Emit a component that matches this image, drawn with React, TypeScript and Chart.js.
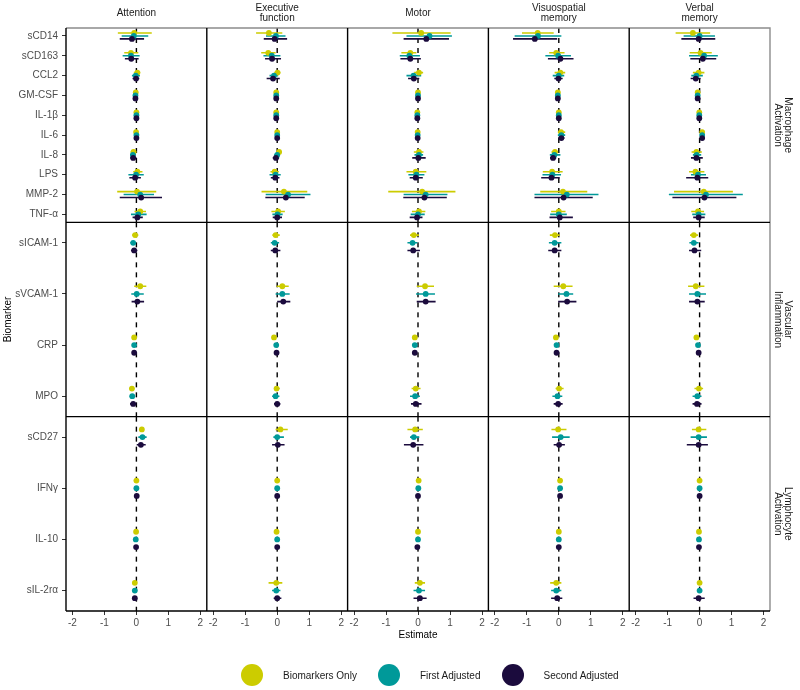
import React, { useEffect, useRef } from "react";
import { Chart, registerables } from "chart.js";

Chart.register(...registerables);

const FONT = '"Liberation Sans", Arial, Helvetica, sans-serif';

// Facet labels
const DOMAINS = ["Attention", "Executive\nfunction", "Motor", "Visuospatial\nmemory", "Verbal\nmemory"];
const GROUP_LABELS = ["Macrophage\nActivation", "Vascular\nInflammation", "Lymphocyte\nActivation"];

// Biomarkers per group (top to bottom)
const MACROPHAGE = ["sCD14", "sCD163", "CCL2", "GM-CSF", "IL-1β", "IL-6", "IL-8", "LPS", "MMP-2", "TNF-α"];
const VASCULAR = ["sICAM-1", "sVCAM-1", "CRP", "MPO"];
const LYMPHOCYTE = ["sCD27", "IFNγ", "IL-10", "sIL-2rα"];

const MODELS = ["Biomarkers Only", "First Adjusted", "Second Adjusted"];
const MODEL_COLORS = ["#CCCC00", "#009999", "#1B0B3D"];

const X_TICKS = [-2, -1, 0, 1, 2];
const X_MIN = -2.2;
const X_MAX = 2.2;
const REFERENCE_X = 0;

// Each array: [Biomarkers Only, First Adjusted, Second Adjusted],
// 18 values in order MACROPHAGE, VASCULAR, LYMPHOCYTE
const ATTENTION_EST = [
  [-0.07, -0.17, 0.03, -0.02, 0.0, -0.01, -0.09, 0.03, 0.02, 0.12, -0.04, 0.12, -0.07, -0.14, 0.17, 0.0, -0.01, -0.05],
  [-0.08, -0.17, -0.02, -0.03, 0.0, 0.0, -0.11, -0.01, 0.12, 0.06, -0.1, 0.01, -0.07, -0.13, 0.19, 0.0, -0.02, -0.05],
  [-0.14, -0.16, -0.01, -0.03, 0.0, 0.0, -0.1, -0.04, 0.15, 0.03, -0.07, 0.03, -0.07, -0.1, 0.14, 0.01, -0.01, -0.05],
];
const ATTENTION_LO = [
  [-0.58, -0.38, -0.08, -0.07, -0.05, -0.06, -0.18, -0.1, -0.6, -0.06, -0.13, -0.07, -0.12, -0.22, 0.12, -0.03, -0.04, -0.1],
  [-0.46, -0.43, -0.14, -0.08, -0.05, -0.06, -0.2, -0.25, -0.4, -0.17, -0.19, -0.16, -0.12, -0.21, 0.06, -0.03, -0.05, -0.12],
  [-0.52, -0.36, -0.12, -0.08, -0.05, -0.06, -0.19, -0.22, -0.52, -0.12, -0.17, -0.15, -0.12, -0.2, 0.01, -0.02, -0.04, -0.12],
];
const ATTENTION_HI = [
  [0.48, 0.06, 0.12, 0.04, 0.05, 0.05, 0.0, 0.19, 0.62, 0.3, 0.06, 0.31, -0.02, -0.06, 0.22, 0.03, 0.02, 0.0],
  [0.37, 0.1, 0.11, 0.03, 0.05, 0.06, -0.02, 0.23, 0.55, 0.32, -0.01, 0.23, -0.02, -0.04, 0.32, 0.03, 0.01, 0.02],
  [0.24, 0.07, 0.09, 0.03, 0.05, 0.06, 0.0, 0.14, 0.8, 0.2, 0.03, 0.24, -0.02, 0.0, 0.29, 0.04, 0.02, 0.02],
];

const EXECUTIVE_EST = [
  [-0.26, -0.28, 0.01, -0.03, -0.03, 0.0, 0.06, -0.08, 0.21, 0.03, -0.05, 0.16, -0.1, -0.02, 0.1, 0.0, -0.02, -0.03],
  [-0.04, -0.17, -0.1, -0.03, -0.03, 0.0, 0.0, -0.05, 0.34, 0.01, -0.08, 0.16, -0.03, -0.05, 0.0, 0.0, 0.0, -0.03],
  [-0.08, -0.16, -0.13, -0.03, -0.03, 0.0, -0.04, -0.06, 0.27, 0.0, -0.06, 0.19, -0.02, 0.0, 0.02, 0.0, 0.0, 0.0],
];
const EXECUTIVE_LO = [
  [-0.66, -0.5, -0.09, -0.08, -0.07, -0.05, -0.01, -0.21, -0.49, -0.18, -0.15, -0.02, -0.14, -0.1, -0.05, -0.03, -0.05, -0.27],
  [-0.35, -0.43, -0.24, -0.08, -0.07, -0.05, -0.09, -0.24, -0.36, -0.15, -0.2, -0.05, -0.07, -0.16, -0.12, -0.03, -0.03, -0.16],
  [-0.42, -0.38, -0.33, -0.08, -0.07, -0.05, -0.14, -0.2, -0.37, -0.14, -0.2, 0.0, -0.06, -0.1, -0.16, -0.03, -0.03, -0.11],
];
const EXECUTIVE_HI = [
  [0.16, -0.05, 0.1, 0.02, 0.01, 0.05, 0.14, 0.05, 0.94, 0.24, 0.08, 0.36, -0.06, 0.08, 0.33, 0.03, 0.01, 0.16],
  [0.26, 0.1, 0.03, 0.02, 0.01, 0.05, 0.09, 0.11, 1.04, 0.17, 0.06, 0.39, 0.01, 0.07, 0.21, 0.03, 0.03, 0.1],
  [0.31, 0.12, 0.08, 0.02, 0.01, 0.05, 0.06, 0.07, 0.86, 0.15, 0.1, 0.41, 0.02, 0.1, 0.23, 0.03, 0.03, 0.13],
];

const MOTOR_EST = [
  [0.1, -0.24, 0.03, 0.0, -0.02, -0.01, 0.03, -0.07, 0.13, 0.03, -0.13, 0.22, -0.1, -0.07, -0.09, 0.02, 0.0, 0.06],
  [0.36, -0.27, -0.14, 0.0, -0.02, -0.01, 0.03, -0.05, 0.24, 0.0, -0.17, 0.24, -0.1, -0.09, -0.13, 0.01, 0.0, 0.03],
  [0.26, -0.24, -0.13, 0.0, -0.02, -0.01, 0.01, -0.07, 0.2, -0.03, -0.15, 0.24, -0.1, -0.07, -0.15, 0.0, -0.02, 0.06],
];
const MOTOR_LO = [
  [-0.8, -0.52, -0.12, -0.05, -0.06, -0.06, -0.13, -0.36, -0.93, -0.19, -0.25, -0.04, -0.15, -0.2, -0.33, -0.01, -0.03, -0.1],
  [-0.36, -0.57, -0.36, -0.05, -0.06, -0.06, -0.11, -0.3, -0.45, -0.23, -0.33, -0.06, -0.15, -0.25, -0.25, -0.02, -0.03, -0.14],
  [-0.45, -0.55, -0.31, -0.05, -0.06, -0.06, -0.18, -0.26, -0.46, -0.26, -0.33, -0.04, -0.15, -0.22, -0.44, -0.03, -0.05, -0.14],
];
const MOTOR_HI = [
  [1.02, -0.05, 0.16, 0.05, 0.02, 0.04, 0.17, 0.26, 1.17, 0.23, 0.03, 0.5, -0.05, 0.08, 0.15, 0.05, 0.03, 0.22],
  [1.06, 0.06, 0.1, 0.05, 0.02, 0.04, 0.16, 0.2, 0.92, 0.21, -0.02, 0.53, -0.05, 0.06, 0.04, 0.04, 0.03, 0.22],
  [0.97, 0.09, 0.04, 0.05, 0.02, 0.04, 0.24, 0.15, 0.9, 0.14, 0.06, 0.55, -0.05, 0.11, 0.17, 0.03, 0.01, 0.27],
];

const VISUOSPATIAL_EST = [
  [-0.66, -0.08, 0.05, -0.03, 0.0, 0.07, -0.12, -0.21, 0.13, 0.0, -0.12, 0.14, -0.09, 0.01, -0.02, 0.04, 0.0, -0.08],
  [-0.65, -0.02, 0.0, -0.03, 0.0, 0.08, -0.14, -0.2, 0.25, 0.0, -0.13, 0.24, -0.07, -0.04, 0.06, 0.04, 0.0, -0.08],
  [-0.75, 0.05, -0.01, -0.03, 0.0, 0.08, -0.18, -0.23, 0.15, 0.03, -0.13, 0.26, -0.07, -0.02, 0.01, 0.04, 0.0, -0.05],
];
const VISUOSPATIAL_LO = [
  [-1.15, -0.3, -0.13, -0.08, -0.04, -0.03, -0.23, -0.5, -0.58, -0.24, -0.28, -0.16, -0.14, -0.1, -0.23, 0.01, -0.03, -0.27],
  [-1.38, -0.42, -0.19, -0.08, -0.04, -0.03, -0.28, -0.51, -0.76, -0.27, -0.31, -0.02, -0.12, -0.2, -0.21, 0.01, -0.03, -0.24],
  [-1.43, -0.34, -0.14, -0.08, -0.04, -0.02, -0.27, -0.55, -0.76, -0.29, -0.33, -0.02, -0.12, -0.16, -0.16, 0.01, -0.03, -0.24],
];
const VISUOSPATIAL_HI = [
  [-0.16, 0.18, 0.2, 0.02, 0.04, 0.2, -0.02, 0.12, 0.89, 0.21, 0.03, 0.43, -0.04, 0.15, 0.24, 0.07, 0.03, 0.08],
  [0.08, 0.38, 0.17, 0.02, 0.04, 0.2, 0.05, 0.07, 1.24, 0.25, 0.08, 0.45, -0.02, 0.11, 0.34, 0.07, 0.03, 0.08],
  [-0.05, 0.46, 0.12, 0.02, 0.04, 0.18, -0.08, 0.03, 1.06, 0.44, 0.08, 0.55, -0.02, 0.12, 0.19, 0.07, 0.03, 0.11],
];

const VERBAL_EST = [
  [-0.21, 0.03, -0.03, -0.06, -0.01, 0.08, -0.1, -0.13, 0.13, -0.05, -0.18, -0.12, -0.1, -0.02, -0.03, 0.0, -0.02, 0.0],
  [0.0, 0.14, -0.1, -0.06, -0.01, 0.08, -0.09, -0.05, 0.2, -0.03, -0.18, -0.07, -0.05, -0.07, -0.03, 0.0, -0.02, 0.0],
  [-0.03, 0.1, -0.12, -0.06, -0.01, 0.08, -0.1, -0.07, 0.15, -0.03, -0.16, -0.07, -0.03, -0.08, -0.03, 0.0, -0.02, -0.03],
];
const VERBAL_LO = [
  [-0.75, -0.31, -0.21, -0.11, -0.05, 0.02, -0.25, -0.33, -0.8, -0.26, -0.3, -0.36, -0.14, -0.16, -0.24, -0.03, -0.05, -0.04],
  [-0.5, -0.33, -0.26, -0.11, -0.05, 0.02, -0.21, -0.27, -0.96, -0.23, -0.32, -0.33, -0.09, -0.22, -0.28, -0.03, -0.05, -0.06],
  [-0.57, -0.29, -0.28, -0.11, -0.05, 0.02, -0.27, -0.42, -0.85, -0.2, -0.33, -0.33, -0.07, -0.22, -0.4, -0.03, -0.05, -0.19],
];
const VERBAL_HI = [
  [0.33, 0.38, 0.15, -0.01, 0.03, 0.14, 0.07, 0.15, 1.04, 0.14, -0.05, 0.15, -0.06, 0.11, 0.21, 0.03, 0.01, 0.04],
  [0.48, 0.57, 0.1, -0.01, 0.03, 0.14, 0.05, 0.2, 1.35, 0.18, -0.03, 0.2, -0.01, 0.06, 0.23, 0.03, 0.01, 0.06],
  [0.49, 0.52, 0.03, -0.01, 0.03, 0.14, 0.1, 0.27, 1.15, 0.16, 0.05, 0.16, 0.01, 0.06, 0.26, 0.03, 0.01, 0.16],
];

const GROUPS = [MACROPHAGE, VASCULAR, LYMPHOCYTE];
const DOMAIN_DATA = [
  [ATTENTION_EST, ATTENTION_LO, ATTENTION_HI],
  [EXECUTIVE_EST, EXECUTIVE_LO, EXECUTIVE_HI],
  [MOTOR_EST, MOTOR_LO, MOTOR_HI],
  [VISUOSPATIAL_EST, VISUOSPATIAL_LO, VISUOSPATIAL_HI],
  [VERBAL_EST, VERBAL_LO, VERBAL_HI],
];

const DODGE = [-0.15, 0, 0.15];
const Y_EXPAND = 0.4;

function buildDatasets() {
  const refLines: any[] = [];
  const bars: any[] = [];
  const points: any[] = [];
  let start = 0;
  GROUPS.forEach((markers, r) => {
    DOMAIN_DATA.forEach(([est, lo, hi], c) => {
      const ids = { xAxisID: `x${c}`, yAxisID: `y${r}` };
      refLines.push({
        ...ids,
        label: "reference",
        data: [
          { x: REFERENCE_X, y: -Y_EXPAND },
          { x: REFERENCE_X, y: markers.length - 1 + Y_EXPAND },
        ],
        showLine: true,
        borderColor: "#000000",
        borderWidth: 1.4,
        borderDash: [5, 5],
        pointRadius: 0,
        order: 30,
      });
      MODELS.forEach((m, s) => {
        const barData: any[] = [];
        const ptData: any[] = [];
        markers.forEach((_, i) => {
          const k = start + i;
          const y = i + DODGE[s];
          barData.push({ x: lo[s][k], y }, { x: hi[s][k], y }, { x: null, y: null });
          ptData.push({ x: est[s][k], y });
        });
        bars.push({
          ...ids,
          label: m,
          data: barData,
          showLine: true,
          spanGaps: false,
          borderColor: MODEL_COLORS[s],
          borderWidth: 1.6,
          pointRadius: 0,
          order: 22 - s,
        });
        points.push({
          ...ids,
          label: m,
          data: ptData,
          showLine: false,
          pointRadius: 2.9,
          pointBackgroundColor: MODEL_COLORS[s],
          pointBorderColor: MODEL_COLORS[s],
          pointBorderWidth: 0,
          order: 3 - s,
        });
      });
    });
    start += markers.length;
  });
  return [...refLines, ...bars, ...points];
}

function buildScales() {
  const scales: any = {};
  DOMAINS.forEach((d, c) => {
    scales[`x${c}`] = {
      type: "linear",
      axis: "x",
      position: "bottom",
      stack: "cols",
      stackWeight: 1,
      weight: c + 1,
      min: X_MIN,
      max: X_MAX,
      afterBuildTicks: (s: any) => {
        s.ticks = X_TICKS.map((v) => ({ value: v }));
      },
      ticks: { color: "#4d4d4d", font: { family: FONT, size: 10 }, padding: 2, autoSkip: false, maxRotation: 0 },
      grid: { display: true, drawOnChartArea: false, drawTicks: true, tickLength: 4, color: "#333333" },
      border: { display: false },
      title:
        c === 2
          ? { display: true, text: "Estimate", color: "#000000", font: { family: FONT, size: 10, lineHeight: 1.2 }, padding: { top: 0, bottom: 49 } }
          : { display: false },
      afterFit: (s: any) => {
        s.height = 79;
      },
    };
    const lines = d.split("\n");
    scales[`t${c}`] = {
      type: "linear",
      axis: "x",
      position: "top",
      stack: "strips",
      stackWeight: 1,
      weight: DOMAINS.length - c,
      ticks: { display: false },
      grid: { display: false },
      border: { display: false },
      title: {
        display: true,
        text: lines,
        color: "#1a1a1a",
        font: { family: FONT, size: 10, lineHeight: 1.05 },
        padding: { top: lines.length > 1 ? 2.5 : 8, bottom: 0 },
      },
      afterFit: (s: any) => {
        s.height = 28;
      },
    };
  });
  GROUPS.forEach((markers, r) => {
    scales[`y${r}`] = {
      type: "linear",
      axis: "y",
      position: "left",
      stack: "rows",
      stackWeight: 1,
      weight: GROUPS.length - r,
      reverse: true,
      min: -Y_EXPAND,
      max: markers.length - 1 + Y_EXPAND,
      afterBuildTicks: (s: any) => {
        s.ticks = markers.map((_, i) => ({ value: i }));
      },
      ticks: {
        color: "#4d4d4d",
        font: { family: FONT, size: 10 },
        padding: 4,
        autoSkip: false,
        callback: (v: any) => markers[Math.round(Number(v))],
      },
      grid: { display: true, drawOnChartArea: false, drawTicks: true, tickLength: 4, color: "#333333" },
      border: { display: false },
      title:
        r === 1
          ? { display: true, text: "Biomarker", color: "#000000", font: { family: FONT, size: 10, lineHeight: 1.2 }, padding: { top: 2.3, bottom: 0 } }
          : { display: false },
      afterFit: (s: any) => {
        s.width = 66;
      },
    };
    scales[`g${r}`] = {
      type: "linear",
      axis: "y",
      position: "right",
      stack: "strips",
      stackWeight: 1,
      weight: r + 1,
      ticks: { display: false },
      grid: { display: false },
      border: { display: false },
      title: {
        display: true,
        text: GROUP_LABELS[r].split("\n"),
        color: "#1a1a1a",
        font: { family: FONT, size: 10, lineHeight: 1.0 },
        padding: { top: 7, bottom: 0 },
      },
      afterFit: (s: any) => {
        s.width = 30;
      },
    };
  });
  return scales;
}

const panelFrame = {
  id: "panelFrame",
  afterDatasetsDraw(chart: any) {
    const { ctx, chartArea: a } = chart;
    ctx.save();
    ctx.lineWidth = 1.4;
    ctx.strokeStyle = "#8c8c8c";
    ctx.beginPath();
    ctx.moveTo(a.left, a.top);
    ctx.lineTo(a.right, a.top);
    ctx.lineTo(a.right, a.bottom);
    ctx.stroke();
    ctx.strokeStyle = "#000000";
    ctx.beginPath();
    DOMAINS.forEach((_, c) => {
      const s = chart.scales[`x${c}`];
      ctx.moveTo(s.left, a.top);
      ctx.lineTo(s.left, a.bottom);
    });
    GROUPS.forEach((_, r) => {
      const s = chart.scales[`y${r}`];
      ctx.moveTo(a.left, s.bottom);
      ctx.lineTo(a.right, s.bottom);
    });
    ctx.stroke();
    ctx.restore();
  },
};

export default function App() {
  const ref = useRef<HTMLCanvasElement | null>(null);
  useEffect(() => {
    if (!ref.current) return;
    Chart.defaults.font.family = FONT;
    const chart = new Chart(ref.current, {
      type: "scatter",
      data: { datasets: buildDatasets() },
      options: {
        responsive: false,
        animation: false,
        devicePixelRatio: 1,
        events: [],
        layout: { padding: 0 },
        plugins: { legend: { display: false }, tooltip: { enabled: false }, title: { display: false } },
        scales: buildScales(),
      } as any,
      plugins: [panelFrame],
    } as any);
    return () => chart.destroy();
  }, []);

  return (
    <div style={{ position: "absolute", left: 0, top: 0, width: 800, height: 690, background: "#ffffff" }}>
      <canvas ref={ref} width={800} height={690} style={{ display: "block" }} />
      <div
        style={{
          position: "absolute",
          left: 241,
          top: 664,
          height: 22,
          display: "flex",
          alignItems: "center",
          gap: 21,
          fontFamily: FONT,
          fontSize: 10,
          color: "#1a1a1a",
          whiteSpace: "nowrap",
        }}
      >
        {MODELS.map((m, i) => (
          <div key={m} style={{ display: "flex", alignItems: "center" }}>
            <span
              style={{ display: "inline-block", width: 22, height: 22, borderRadius: "50%", background: MODEL_COLORS[i], marginRight: 20 }}
            />
            <span>{m}</span>
          </div>
        ))}
      </div>
    </div>
  );
}
